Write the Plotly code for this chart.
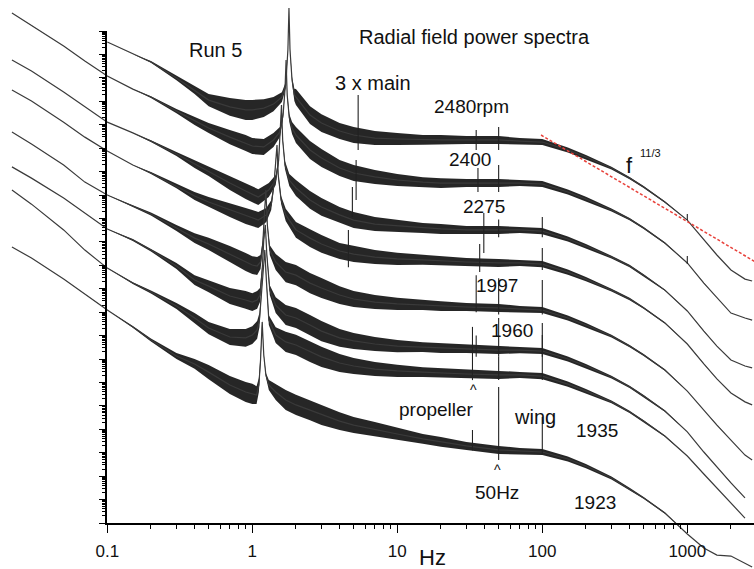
import plotly.graph_objects as go

W, H = 754, 569
FONT = "Liberation Sans, Arial, sans-serif"

# ---------------- data (frequency in Hz, log10 power in decades, offset per run) -------------
F_LOW = [0.022, 0.03, 0.05, 0.07, 0.1, 0.15, 0.2, 0.3, 0.4, 0.5, 0.7, 0.9, 1.0]
F_HIGH = [2, 2.5, 3, 4, 5, 7, 10, 15, 20, 30, 50, 70, 100, 150, 200, 300, 400, 500,
          700, 1000, 1300, 1600, 2000, 2500, 2800]

c1_low = [None, None, None, None, 20.53, 20.02, 19.68, 18.99, 18.48, 18.05, 17.76, 17.63, 17.63]
c1_pk_f = [1.2, 1.4, 1.6, 1.7, 1.76, 1.79, 1.82, 1.88, 1.95]
c1_pk = [17.71, 17.88, 18.18, 18.69, 20.19, 21.98, 20.19, 18.91, 18.27]
c1_high = [18.18, 17.41, 17.07, 16.73, 16.56, 16.43, 16.39, 16.35, 16.35, 16.35, 16.35, 16.30, 16.26,
           15.92, 15.62, 15.15, 14.72, 14.34, 13.70, 12.93, 12.08, 11.44, 10.80, 10.41, 10.33]

c2_low = [21.77, 21.25, 20.36, 19.72, 19.08, 18.52, 18.18, 17.58, 17.16, 16.86, 16.47, 16.22, 16.09]
c2_pk_f = [1.2, 1.4, 1.55, 1.63, 1.68, 1.71, 1.74, 1.8, 1.88]
c2_pk = [16.05, 16.35, 16.69, 17.41, 18.48, 19.76, 18.27, 17.29, 16.86]
c2_high = [16.56, 15.92, 15.58, 15.15, 14.94, 14.77, 14.64, 14.55, 14.51, 14.51, 14.51, 14.51, 14.47,
           14.13, 13.83, 13.36, 12.97, 12.59, 11.95, 11.10, 10.24, 9.60, 8.96, 8.75, 8.66]

c3_low = [19.76, 19.29, 18.40, 17.76, 17.11, 16.65, 16.30, 15.75, 15.32, 15.02, 14.51, 14.17, 14.04]
c3_pk_f = [1.1, 1.3, 1.45, 1.52, 1.56, 1.59, 1.62, 1.68, 1.8]
c3_pk = [13.91, 14.21, 14.64, 15.49, 16.77, 17.84, 16.35, 15.28, 14.64]
c3_high = [14.30, 13.79, 13.49, 13.15, 12.93, 12.76, 12.68, 12.59, 12.55, 12.51, 12.51, 12.51, 12.46,
           12.12, 11.82, 11.35, 10.97, 10.58, 9.94, 9.05, 8.19, 7.55, 6.96, 6.70, 6.62]

c4_low = [18.48, 18.01, 17.11, 16.47, 15.88, 15.28, 14.94, 14.38, 13.96, 13.70, 13.36, 13.10, 13.02]
c4_pk_f = [1.1, 1.25, 1.35, 1.41, 1.45, 1.48, 1.51, 1.58, 1.7]
c4_pk = [12.93, 13.15, 13.57, 14.43, 15.49, 16.13, 14.85, 13.79, 13.15]
c4_high = [12.51, 12.16, 11.91, 11.61, 11.48, 11.35, 11.27, 11.23, 11.18, 11.14, 11.10, 11.10, 11.05,
           10.71, 10.41, 9.94, 9.56, 9.18, 8.54, 7.64, 6.79, 6.15, 5.55, 5.17, 5.04]

c5_low = [16.69, 16.18, 15.28, 14.55, 14.00, 13.53, 13.19, 12.59, 12.16, 11.91, 11.48, 11.14, 11.01]
c5_pk_f = [1.08, 1.14, 1.18, 1.21, 1.24, 1.27, 1.32, 1.45, 1.7]
c5_pk = [10.97, 11.14, 11.87, 13.15, 14.21, 12.72, 11.65, 11.14, 10.71]
c5_high = [10.58, 10.24, 10.03, 9.73, 9.56, 9.43, 9.35, 9.30, 9.26, 9.22, 9.18, 9.13, 9.09,
           8.75, 8.45, 7.98, 7.55, 7.17, 6.53, 5.63, 4.82, 4.18, 3.54, 2.90, 2.69]

c6_low = [15.20, 14.72, 13.87, 13.23, 12.55, 12.08, 11.65, 10.97, 10.37, 10.11, 9.69, 9.52, 9.43]
c6_pk_f = [1.08, 1.13, 1.17, 1.2, 1.23, 1.26, 1.32, 1.45, 1.7]
c6_pk = [9.52, 9.73, 10.80, 12.08, 12.72, 11.44, 9.94, 9.30, 8.88]
c6_high = [8.75, 8.45, 8.19, 7.90, 7.77, 7.64, 7.55, 7.51, 7.47, 7.43, 7.38, 7.38, 7.34,
           7.00, 6.70, 6.23, 5.81, 5.42, 4.78, 3.89, 3.03, 2.39, 1.71, 1.07, None]

c7_low = [14.21, 13.61, 12.51, 11.65, 10.88, 10.24, 9.86, 9.26, 8.75, 8.32, 7.94, 7.90, 8.02]
c7_pk_f = [1.08, 1.12, 1.16, 1.19, 1.22, 1.25, 1.3, 1.45, 1.7]
c7_pk = [8.24, 8.66, 9.94, 11.01, 11.65, 10.37, 8.66, 8.02, 7.73]
c7_high = [7.60, 7.30, 7.09, 6.83, 6.70, 6.57, 6.49, 6.44, 6.40, 6.36, 6.32, 6.32, 6.27,
           5.93, 5.63, 5.17, 4.74, 4.35, 3.71, 2.86, 2.09, 1.49, 0.85, 0.21, None]

c8_low = [11.78, 11.31, 10.41, 9.77, 9.09, 8.37, 7.81, 7.13, 6.79, 6.44, 5.89, 5.59, 5.51]
c8_pk_f = [1.07, 1.11, 1.14, 1.17, 1.2, 1.24, 1.3, 1.45, 1.7]
c8_pk = [5.46, 5.89, 6.96, 8.58, 7.17, 6.32, 5.89, 5.59, 5.25]
c8_high = [5.04, 4.82, 4.61, 4.35, 4.18, 4.01, 3.80, 3.59, 3.46, 3.29, 3.12, 3.07, 3.03,
           2.73, 2.43, 1.92, 1.45, 1.07, 0.43, -0.47, -1.07, -1.37, -1.41, -1.71, -1.88]

# noise half-spread (decades) on the same grids
nz_a_low = [0, 0, 0, 0, 0, 0, 0.04, 0.09, 0.17, 0.26, 0.38, 0.43, 0.43]
nz_b_low = [0, 0, 0, 0, 0, 0, 0.04, 0.09, 0.17, 0.21, 0.30, 0.34, 0.34]
nz_c_low = [0, 0, 0, 0, 0, 0.04, 0.06, 0.13, 0.21, 0.26, 0.34, 0.38, 0.38]
nz_d_low = [0, 0, 0, 0, 0, 0.04, 0.06, 0.13, 0.21, 0.30, 0.38, 0.43, 0.43]
nz_a_pk = [0.38, 0.30, 0.21, 0.13, 0.04, 0, 0.04, 0.13, 0.26]
nz_b_pk = [0.34, 0.30, 0.21, 0.13, 0.04, 0, 0.09, 0.17, 0.26]
nz_c_pk = [0.38, 0.30, 0.21, 0.09, 0.04, 0.09, 0.21, 0.34, 0.43]
nz_a_high = [0.34, 0.38, 0.38, 0.34, 0.34, 0.30, 0.26, 0.21, 0.21, 0.17, 0.17, 0.13, 0.13,
             0.11, 0.09, 0.06, 0.05, 0.04, 0.03, 0, 0, 0, 0, 0, 0]
nz_c_high = [0.43, 0.43, 0.43, 0.38, 0.34, 0.30, 0.26, 0.21, 0.21, 0.17, 0.17, 0.13, 0.13,
             0.11, 0.09, 0.06, 0.05, 0.04, 0.03, 0, 0, 0, 0, 0, 0]

# narrow lines (Hz, top, bottom) in decades
c1_sp = [(5.37, 18.27, 15.92), (35, 16.77, 15.92), (50, 16.90, 15.92), (1000, 13.19, 12.93)]
c2_sp = [(5.2, 15.49, 13.79), (36, 15.15, 14.13), (50, 15.28, 14.13), (1000, 11.40, 11.05)]
c3_sp = [(4.9, 14.34, 13.06), (39.5, 13.23, 11.52), (50, 12.95, 12.2), (100, 13.06, 12.2)]
c4_sp = [(4.6, 12.51, 10.92), (37, 11.91, 10.71), (100, 11.74, 10.8)]
c5_sp = [(35, 10.58, 9.0), (50, 10.45, 8.9), (100, 10.37, 8.9)]
c6_sp = [(35, 8.0, 7.1), (50, 8.75, 7.1), (100, 8.54, 7.1)]
c7_sp = [(33, 8.37, 6.1), (50, 7.1, 6.1), (100, 8.02, 6.1)]
c8_sp = [(33, 3.97, 3.1), (50, 5.81, 2.69), (100, 4.52, 2.9)]

runs = [
    (c1_low, c1_pk_f, c1_pk, c1_high, nz_a_low, nz_a_pk, nz_a_high, c1_sp),
    (c2_low, c2_pk_f, c2_pk, c2_high, nz_b_low, nz_b_pk, nz_a_high, c2_sp),
    (c3_low, c3_pk_f, c3_pk, c3_high, nz_b_low, nz_b_pk, nz_a_high, c3_sp),
    (c4_low, c4_pk_f, c4_pk, c4_high, nz_b_low, nz_b_pk, nz_a_high, c4_sp),
    (c5_low, c5_pk_f, c5_pk, c5_high, nz_c_low, nz_c_pk, nz_c_high, c5_sp),
    (c6_low, c6_pk_f, c6_pk, c6_high, nz_c_low, nz_c_pk, nz_c_high, c6_sp),
    (c7_low, c7_pk_f, c7_pk, c7_high, nz_c_low, nz_c_pk, nz_c_high, c7_sp),
    (c8_low, c8_pk_f, c8_pk, c8_high, nz_d_low, nz_c_pk, nz_c_high, c8_sp),
]

slope_f = [98, 2900]
slope_y = [16.56, 11.17]

freq_ticks = [0.1, 1, 10, 100, 1000]
freq_ticktext = ["0.1", "1", "10", "100", "1000"]

# ---------------- figure ----------------
fig = go.Figure()

for low, pkf, pk, high, nl, npk, nh, sp in runs:
    f = F_LOW + pkf + F_HIGH
    y = low + pk + high
    w = nl + npk + nh
    pts = [(a, b, c) for a, b, c in zip(f, y, w) if b is not None]
    fx = [p[0] for p in pts]
    up = [p[1] + p[2] for p in pts]
    lo = [p[1] - p[2] for p in pts]
    fig.add_trace(go.Scatter(x=fx + fx[::-1], y=up + lo[::-1], fill="toself",
                             fillcolor="rgba(8,8,8,0.88)", line=dict(width=0),
                             mode="lines", hoverinfo="skip", showlegend=False))
    fig.add_trace(go.Scatter(x=f, y=y, mode="lines", connectgaps=False,
                             line=dict(color="#3a3a3a", width=1.2), showlegend=False))
    sx, sy = [], []
    for fr, top, bot in sp:
        sx += [fr, fr, None]
        sy += [bot, top, None]
    fig.add_trace(go.Scatter(x=sx, y=sy, mode="lines", line=dict(color="#222", width=1.1),
                             showlegend=False))

fig.add_trace(go.Scatter(x=slope_f, y=slope_y, mode="lines",
                         line=dict(color="#e8413a", width=1.5, dash="3px,2px"), showlegend=False))

# invisible trace to instantiate the frame axes
fig.add_trace(go.Scatter(x=[1], y=[1], xaxis="x2", yaxis="y2", mode="markers",
                         marker=dict(opacity=0), showlegend=False, hoverinfo="skip"))

X0 = 107.3          # pixel of 0.1 Hz
DEC_X = 145.0       # pixels per frequency decade
Y_AX = 523.0        # pixel of the bottom axis
Y_TOP = 31.0
DEC_Y = (Y_AX - Y_TOP) / 21.0

xr_left = -1 - X0 / DEC_X
xr_right = -1 + (W - X0) / DEC_X

minor_x = [m * 10.0 ** k for k in range(-1, 4) for m in range(2, 10)]
minor_y = [m * 10.0 ** k for k in range(0, 21) for m in range(2, 10)]
major_y = [10.0 ** k for k in range(22)]

fig.update_layout(
    width=W, height=H, margin=dict(l=0, r=0, t=0, b=0, pad=0, autoexpand=False),
    paper_bgcolor="white", plot_bgcolor="rgba(0,0,0,0)",
    font=dict(family=FONT, color="#111"),
    xaxis=dict(type="log", range=[xr_left, xr_right], domain=[0, 1], visible=False,
               fixedrange=True, automargin=False),
    yaxis=dict(range=[-(H - Y_AX) / DEC_Y, Y_AX / DEC_Y], domain=[0, 1], visible=False,
               fixedrange=True, automargin=False),
    xaxis2=dict(type="log", range=[-1, xr_right], domain=[X0 / W, 1], anchor="y2", automargin=False,
                showline=True, linecolor="black", linewidth=1.5, showgrid=False, zeroline=False,
                ticks="outside", ticklen=8, tickwidth=1.3, tickcolor="black",
                tickmode="array", tickvals=freq_ticks, ticktext=freq_ticktext,
                tickfont=dict(size=17, family=FONT, color="#111"), ticklabelstandoff=4,
                minor=dict(tickmode="array", tickvals=minor_x, ticks="outside", ticklen=4,
                           tickwidth=1.1, tickcolor="black", showgrid=False)),
    yaxis2=dict(type="log", range=[0, 21], domain=[1 - Y_AX / H, 1 - Y_TOP / H], anchor="x2",
                automargin=False,
                showline=True, linecolor="black", linewidth=1.5, showgrid=False, zeroline=False,
                ticks="outside", ticklen=7, tickwidth=1.3, tickcolor="black",
                tickmode="array", tickvals=major_y, showticklabels=False,
                minor=dict(tickmode="array", tickvals=minor_y, ticks="outside", ticklen=3.5,
                           tickwidth=1, tickcolor="black", showgrid=False)),
)


def ann(text, px, py, size=20):
    fig.add_annotation(text=text, x=px / W, y=1 - py / H, xref="paper", yref="paper",
                       showarrow=False, xanchor="center", yanchor="middle",
                       font=dict(size=size, family=FONT, color="#111"))


ann("Run 5", 215, 50, 20)
ann("Radial field power spectra", 474, 37, 20)
ann("3 x main", 373, 83, 20)
ann("2480rpm", 471, 107, 19)
ann("2400", 470, 160, 19)
ann("2275", 484, 207, 19)
ann("1997", 497, 285, 19)
ann("1960", 512, 330, 19)
ann("^", 473, 390, 14)
ann("propeller", 436, 409, 19)
ann("wing", 535, 417, 20)
ann("1935", 597, 430, 19)
ann("^", 498, 470, 14)
ann("50Hz", 497, 492, 19)
ann("1923", 595, 502, 19)
ann("f", 629, 165, 22)
ann("11/3", 650, 153, 11)
ann("Hz", 432, 557, 22)

fig.write_html("out.html", config={"displayModeBar": False},
               post_script="document.body.style.margin='0';document.body.style.overflow='hidden';")
